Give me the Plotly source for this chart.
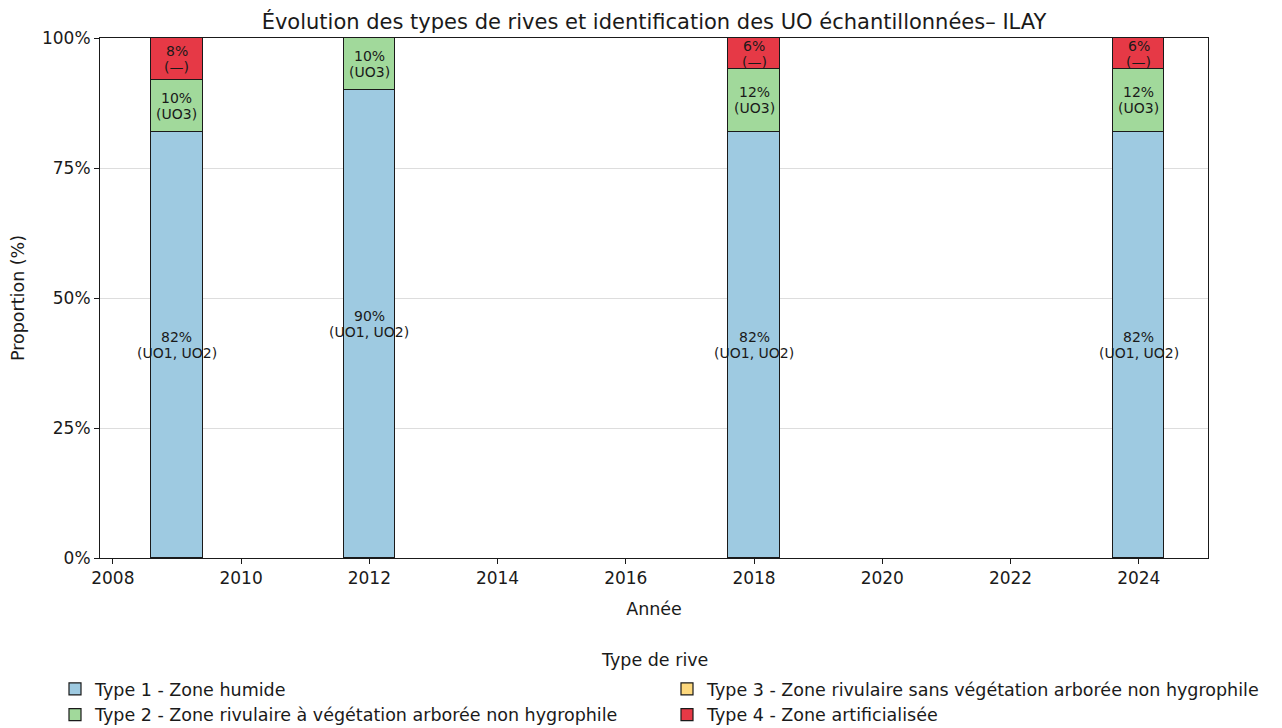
import plotly.graph_objects as go

years = [2009, 2012, 2018, 2024]
type_names = [
    "Type 1 - Zone humide",
    "Type 2 - Zone rivulaire à végétation arborée non hygrophile",
    "Type 3 - Zone rivulaire sans végétation arborée non hygrophile",
    "Type 4 - Zone artificialisée",
]
type1 = [82, 90, 82, 82]
type2 = [10, 10, 12, 12]
type3 = [0, 0, 0, 0]
type4 = [8, 0, 6, 6]
uo1 = ["(UO1, UO2)", "(UO1, UO2)", "(UO1, UO2)", "(UO1, UO2)"]
uo2 = ["(UO3)", "(UO3)", "(UO3)", "(UO3)"]
uo3 = ["", "", "", ""]
uo4 = ["(—)", "(—)", "(—)", "(—)"]
x_ticks = [2008, 2010, 2012, 2014, 2016, 2018, 2020, 2022, 2024]
y_ticks = [0, 25, 50, 75, 100]
y_ticklabels = ["0%", "25%", "50%", "75%", "100%"]

colors = ["#9ecae1", "#a1d99b", "#fdd87d", "#e63946"]
series = [type1, type2, type3, type4]
uos = [uo1, uo2, uo3, uo4]
legend_ids = ["legend", "legend", "legend2", "legend2"]

# page body has an 8px offset; compensate so the plot area lands at 100..1208 x 38..558
L, T, PW, PH = 92, 30, 1108, 520
W, H = 1282, 728

fig = go.Figure()
annotations = []
base = [0] * len(years)
for name, vals, col, uo, lg in zip(type_names, series, colors, uos, legend_ids):
    fig.add_trace(go.Bar(
        x=years, y=vals, name=name, width=0.8,
        marker=dict(color=col, line=dict(color="#1a1a1a", width=1.2)),
        legend=lg,
    ))
    for i, (yr, v) in enumerate(zip(years, vals)):
        if v > 0:
            mid = base[i] + v / 2
            annotations.append(dict(
                x=yr, y=mid, xref="x", yref="y", text=f"{v}%", showarrow=False,
                yshift=8, font=dict(size=14, color="#1a1a1a"),
            ))
            annotations.append(dict(
                x=yr, y=mid, xref="x", yref="y", text=uo[i], showarrow=False,
                yshift=-8, font=dict(size=14, color="#1a1a1a"),
            ))
        base[i] += v

annotations.append(dict(
    text="Type de rive", x=0.5, xref="paper", y=-(660 - 558) / PH, yref="paper",
    xanchor="center", yanchor="middle", showarrow=False, font=dict(size=17.5),
))

legend_common = dict(
    orientation="v", yanchor="top", xanchor="left", traceorder="normal",
    font=dict(size=17.5), bgcolor="rgba(0,0,0,0)", tracegroupgap=0,
    itemwidth=30,
)

fig.update_layout(
    barmode="stack",
    width=W, height=H,
    margin=dict(l=L, r=W - L - PW, t=T, b=H - T - PH, autoexpand=False),
    paper_bgcolor="white", plot_bgcolor="white",
    font=dict(family="DejaVu Sans", size=17, color="#1a1a1a"),
    title=dict(text="Évolution des types de rives et identification des UO échantillonnées– ILAY",
               x=0.5, xref="paper", xanchor="center", y=1 - 14 / H, yanchor="middle",
               font=dict(size=21)),
    annotations=annotations,
    bargap=0,
    legend=dict(x=(55 - 100) / PW, y=-(671 - 558) / PH, **legend_common),
    legend2=dict(x=(667 - 100) / PW, y=-(671 - 558) / PH, **legend_common),
)
fig.update_xaxes(
    range=[2007.8, 2025.08], tickmode="array", tickvals=x_ticks,
    ticks="outside", ticklen=5, tickcolor="#1a1a1a",
    showline=True, linecolor="#1a1a1a", linewidth=1, mirror=True,
    showgrid=False, zeroline=False, automargin=False,
    tickfont=dict(size=17),
    title=dict(text="Année", font=dict(size=17.5)),
)
fig.update_yaxes(
    range=[0, 100], tickmode="array", tickvals=y_ticks, ticktext=y_ticklabels,
    ticks="outside", ticklen=5, tickcolor="#1a1a1a",
    showline=True, linecolor="#1a1a1a", linewidth=1, mirror=True,
    showgrid=True, gridcolor="#dddddd", gridwidth=1, zeroline=False, automargin=False,
    tickfont=dict(size=17),
    title=dict(text="Proportion (%)", font=dict(size=17.5)),
)

fig.write_html("out.html")
